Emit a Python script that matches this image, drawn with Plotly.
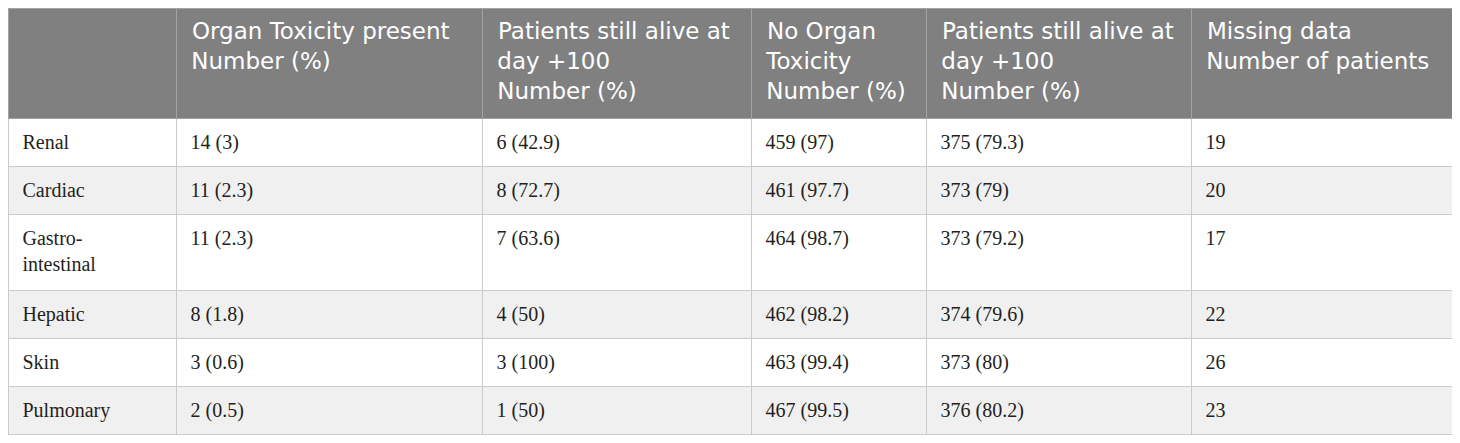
import plotly.graph_objects as go

# ---- data ----
header_labels = [
    "",
    "Organ Toxicity present<br>Number (%)",
    "Patients still alive at<br>day +100<br>Number (%)",
    "No Organ<br>Toxicity<br>Number (%)",
    "Patients still alive at<br>day +100<br>Number (%)",
    "Missing data<br>Number of patients",
]
organs = ["Renal", "Cardiac", "Gastro-<br>intestinal", "Hepatic", "Skin", "Pulmonary"]
tox_present = ["14 (3)", "11 (2.3)", "11 (2.3)", "8 (1.8)", "3 (0.6)", "2 (0.5)"]
alive_tox = ["6 (42.9)", "8 (72.7)", "7 (63.6)", "4 (50)", "3 (100)", "1 (50)"]
no_tox = ["459 (97)", "461 (97.7)", "464 (98.7)", "462 (98.2)", "463 (99.4)", "467 (99.5)"]
alive_no_tox = ["375 (79.3)", "373 (79)", "373 (79.2)", "374 (79.6)", "373 (80)", "376 (80.2)"]
missing = ["19", "20", "17", "22", "26", "23"]

columns = [organs, tox_present, alive_tox, no_tox, alive_no_tox, missing]
col_widths = [168, 306, 269, 175, 265, 262]

# ---- text formatting helpers (padding via non-breaking spaces) ----
NB = "\u00a0"
CELL_PAD = f"<span style='font-size:26px'>{NB}</span>"
CELL_TAIL = f"<span style='font-size:53px'>{NB}</span>"
HEAD_PAD = f"<span style='font-size:25px'>{NB}</span>"


def fmt_cell(text):
    lines = text.split("<br>")
    out = "<br>".join(CELL_PAD + ln for ln in lines)
    if len(lines) == 1:
        out += "<br>"
    else:
        out += CELL_TAIL
    return out


def fmt_header(text):
    if not text:
        return ""
    lines = text.split("<br>")
    return "<br>".join((HEAD_PAD if i == 0 else NB) + ln for i, ln in enumerate(lines))


cell_values = [[fmt_cell(v) for v in col] for col in columns]
header_values = [fmt_header(h) for h in header_labels]

row_fill = ["#ffffff" if i % 2 == 0 else "#f0f0f0" for i in range(len(organs))]

fig = go.Figure(
    go.Table(
        columnwidth=col_widths,
        header=dict(
            values=header_values,
            fill_color="#808080",
            line=dict(color="#a3a3a3", width=1),
            font=dict(family="DejaVu Sans", size=23, color="white"),
            align="left",
            height=110,
        ),
        cells=dict(
            values=cell_values,
            fill_color=[row_fill] * len(columns),
            line=dict(color="#cbcbcb", width=1),
            font=dict(family="Liberation Serif", size=20, color="#231f20"),
            align="left",
            height=48,
        ),
        domain=dict(x=[0, 1445 / 1460], y=[0, 1]),
    )
)

fig.update_layout(
    width=1460,
    height=443,
    margin=dict(l=0, r=0, t=0, b=0),
    paper_bgcolor="white",
)

fig.write_html("out.html")
